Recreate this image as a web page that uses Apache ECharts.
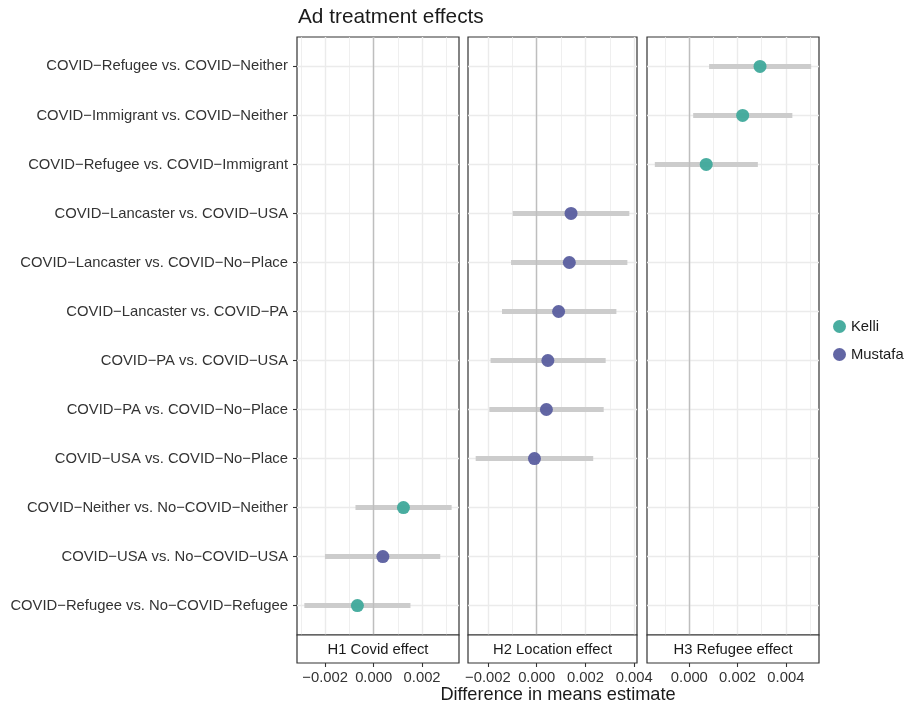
<!DOCTYPE html>
<html>
<head>
<meta charset="utf-8">
<script src="https://cdn.jsdelivr.net/npm/echarts@6/dist/echarts.min.js"></script>
<style>html,body{margin:0;padding:0;background:#fff}#c{width:910px;height:707px}</style>
</head>
<body>
<div id="c"></div>
<script>
const comparisons = [
  'COVID\u2212Refugee vs. COVID\u2212Neither',
  'COVID\u2212Immigrant vs. COVID\u2212Neither',
  'COVID\u2212Refugee vs. COVID\u2212Immigrant',
  'COVID\u2212Lancaster vs. COVID\u2212USA',
  'COVID\u2212Lancaster vs. COVID\u2212No\u2212Place',
  'COVID\u2212Lancaster vs. COVID\u2212PA',
  'COVID\u2212PA vs. COVID\u2212USA',
  'COVID\u2212PA vs. COVID\u2212No\u2212Place',
  'COVID\u2212USA vs. COVID\u2212No\u2212Place',
  'COVID\u2212Neither vs. No\u2212COVID\u2212Neither',
  'COVID\u2212USA vs. No\u2212COVID\u2212USA',
  'COVID\u2212Refugee vs. No\u2212COVID\u2212Refugee'
];
const estimate = [0.00293, 0.00221, 0.00070, 0.00141, 0.00134, 0.00090, 0.00046, 0.00040, -0.00009, 0.00123, 0.00038, -0.00067];
const lower    = [0.00082, 0.00016, -0.00143, -0.00098, -0.00105, -0.00142, -0.00189, -0.00194, -0.00250, -0.00075, -0.00201, -0.00286];
const upper    = [0.00505, 0.00427, 0.00284, 0.00380, 0.00372, 0.00327, 0.00283, 0.00275, 0.00232, 0.00322, 0.00275, 0.00152];
const candidate = ['Kelli','Kelli','Kelli','Mustafa','Mustafa','Mustafa','Mustafa','Mustafa','Mustafa','Kelli','Mustafa','Kelli'];
const panelOf = [2,2,2,1,1,1,1,1,1,0,0,0];
const panels = ['H1 Covid effect', 'H2 Location effect', 'H3 Refugee effect'];
const candidates = ['Kelli', 'Mustafa'];
const xMajorTicks = [[-0.002, 0, 0.002], [-0.002, 0, 0.002, 0.004], [0, 0.002, 0.004]];
const xMinorTicks = [[-0.003, -0.001, 0.001, 0.003], [-0.001, 0.001, 0.003], [-0.001, 0.001, 0.003, 0.005]];
const rowTicks = comparisons.map((_, i) => i);

const colors = { Kelli: '#3FA99B', Mustafa: '#5A5E9F' };
const FONT = 'Liberation Sans, Arial, Helvetica, sans-serif';
const layout = [{ left: 297, width: 162 }, { left: 468, width: 169 }, { left: 647, width: 172 }];
const TOP = 37, HEIGHT = 598, STRIP = 28;
const TXT = 14.8;

function fmt(v) {
  const s = Math.abs(v).toFixed(3);
  return (v < -1e-12 ? '\u2212' : '') + s;
}

// ggplot-like 5% expansion of each facet's data range
const xRange = panels.map((_, p) => {
  let lo = Infinity, hi = -Infinity;
  panelOf.forEach((q, i) => { if (q === p) { lo = Math.min(lo, lower[i]); hi = Math.max(hi, upper[i]); } });
  const pad = (hi - lo) * 0.05;
  return [lo - pad, hi + pad];
});

const grids = [], xAxes = [], yAxes = [], series = [], graphics = [];
panels.forEach((name, p) => {
  grids.push({ left: layout[p].left, width: layout[p].width, top: TOP, height: HEIGHT,
    show: true, borderColor: '#333', borderWidth: 1.2, backgroundColor: 'transparent', containLabel: false });
  // major x axis
  xAxes.push({ type: 'value', gridIndex: p, min: xRange[p][0], max: xRange[p][1], offset: STRIP, position: 'bottom',
    axisLine: { show: false, onZero: false },
    axisTick: { show: true, customValues: xMajorTicks[p], length: 4, lineStyle: { color: '#333', width: 1.1 } },
    axisLabel: { show: true, customValues: xMajorTicks[p], formatter: fmt, margin: 7, color: '#333', fontSize: TXT, fontFamily: FONT },
    splitLine: { show: true, lineStyle: { color: '#EBEBEB', width: 1.4 } } });
  // minor x grid
  xAxes.push({ type: 'value', gridIndex: p, min: xRange[p][0], max: xRange[p][1], position: 'bottom',
    axisLine: { show: false, onZero: false },
    axisTick: { show: false, customValues: xMinorTicks[p] },
    axisLabel: { show: false, customValues: xMinorTicks[p] },
    splitLine: { show: true, lineStyle: { color: '#EBEBEB', width: 0.8 } } });
  yAxes.push({ type: 'value', gridIndex: p, min: -0.6, max: 11.6, inverse: true, position: 'left',
    axisLine: { show: false, onZero: false },
    axisTick: { show: p === 0, customValues: rowTicks, length: 4, lineStyle: { color: '#333', width: 1.1 } },
    axisLabel: { show: p === 0, customValues: rowTicks, formatter: v => comparisons[Math.round(v)] || '',
      margin: 9, color: '#333', fontSize: TXT, fontFamily: FONT },
    splitLine: { show: true, lineStyle: { color: '#EBEBEB', width: 1.4 } } });

  const rows = [];
  panelOf.forEach((q, i) => { if (q === p) rows.push(i); });

  // error bars
  series.push({ type: 'custom', xAxisIndex: 2 * p, yAxisIndex: p, z: 2, silent: true,
    encode: { x: [1, 2], y: 0 },
    data: rows.map(i => [i, lower[i], upper[i]]),
    renderItem: (params, api) => {
      const y = api.value(0);
      const a = api.coord([api.value(1), y]);
      const b = api.coord([api.value(2), y]);
      return { type: 'line', shape: { x1: a[0], y1: a[1], x2: b[0], y2: b[1] },
        style: { stroke: '#CCCCCC', lineWidth: 5, lineCap: 'butt' } };
    },
    markLine: { silent: true, symbol: 'none', label: { show: false }, z: 3,
      lineStyle: { color: '#BEBEBE', width: 1.4, type: 'solid' },
      data: [{ xAxis: 0 }] }
  });
  // points
  candidates.forEach(c => {
    series.push({ type: 'scatter', name: c, xAxisIndex: 2 * p, yAxisIndex: p, z: 5,
      symbol: 'circle', symbolSize: 13,
      itemStyle: { color: colors[c], opacity: 0.95 },
      data: rows.filter(i => candidate[i] === c).map(i => [estimate[i], i]) });
  });

  // strip
  graphics.push({ type: 'rect', z: 10,
    shape: { x: layout[p].left, y: TOP + HEIGHT, width: layout[p].width, height: STRIP },
    style: { fill: '#fff', stroke: '#333', lineWidth: 1.2 } });
  graphics.push({ type: 'text', z: 11, x: layout[p].left + layout[p].width / 2, y: TOP + HEIGHT + STRIP / 2 + 1,
    style: { text: name, align: 'center', verticalAlign: 'middle', fill: '#1a1a1a', fontSize: 14.8, fontFamily: FONT } });
});

graphics.push({ type: 'text', z: 11, x: 558, y: 695,
  style: { text: 'Difference in means estimate', align: 'center', verticalAlign: 'middle', fill: '#1a1a1a', fontSize: 18.2, fontFamily: FONT } });

const chart = echarts.init(document.getElementById('c'), null, { renderer: 'canvas' });
chart.setOption({
  animation: false,
  backgroundColor: '#fff',
  title: { text: 'Ad treatment effects', left: 298, top: 7, padding: 0,
    textStyle: { fontSize: 20.8, fontWeight: 'normal', color: '#1a1a1a', fontFamily: FONT } },
  legend: { data: candidates, orient: 'vertical', left: 833, top: 319, padding: 0, icon: 'circle',
    itemWidth: 13, itemHeight: 13, itemGap: 13, itemTextGap: 7,
    textStyle: { fontSize: TXT, color: '#1a1a1a', fontFamily: FONT } },
  grid: grids,
  xAxis: xAxes,
  yAxis: yAxes,
  series: series,
  graphic: graphics
});
</script>
</body>
</html>
